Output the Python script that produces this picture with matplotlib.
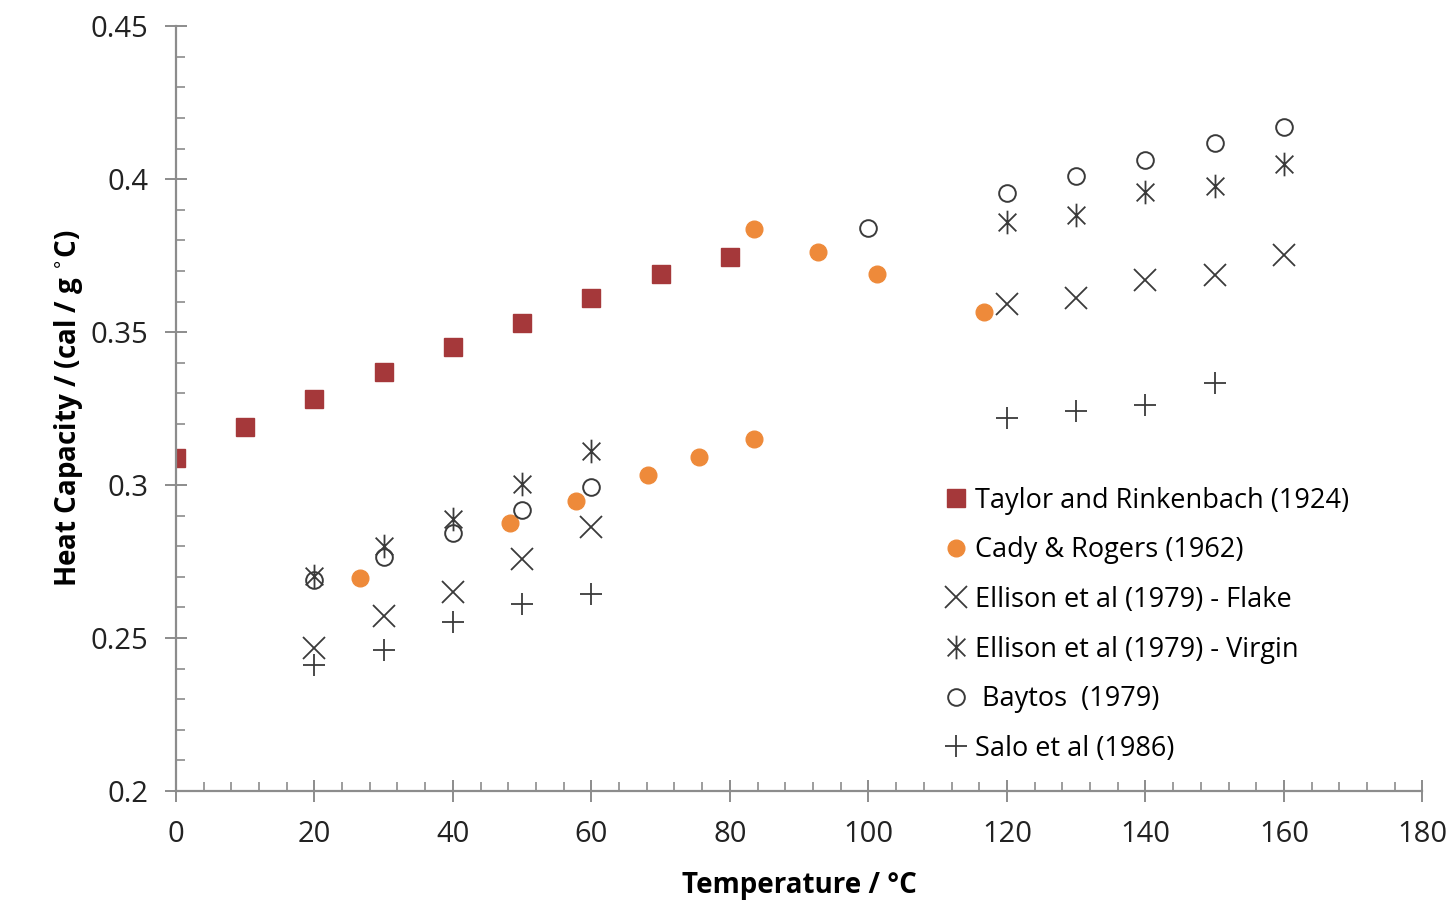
import numpy as np
import matplotlib
matplotlib.use("Agg")
import matplotlib.pyplot as plt
from matplotlib.path import Path
from matplotlib.ticker import MultipleLocator

plt.rcParams['font.family'] = ['Open Sans', 'DejaVu Sans']

# data
taylor_t = [0, 10, 20, 30, 40, 50, 60, 70, 80]
taylor_cp = [0.309, 0.319, 0.328, 0.337, 0.345, 0.353, 0.361, 0.369, 0.3745]

cady_t = [26.6, 48.3, 57.8, 68.2, 75.6, 83.5, 83.5, 92.7, 101.3, 116.7]
cady_cp = [0.2696, 0.2876, 0.2948, 0.3033, 0.3092, 0.315, 0.3837, 0.3761, 0.369, 0.3565]

flake_t = [20, 30, 40, 50, 60, 120, 130, 140, 150, 160]
flake_cp = [0.2467, 0.2572, 0.265, 0.2758, 0.2863, 0.3592, 0.3611, 0.367, 0.3686, 0.3752]

virgin_t = [20, 30, 40, 50, 60, 120, 130, 140, 150, 160]
virgin_cp = [0.2703, 0.2801, 0.2889, 0.3003, 0.3111, 0.3859, 0.3882, 0.3958, 0.3977, 0.4049]

baytos_t = [20, 30, 40, 50, 60, 100, 120, 130, 140, 150, 160]
baytos_cp = [0.269, 0.2765, 0.2843, 0.2918, 0.2993, 0.384, 0.3954, 0.401, 0.4062, 0.4118, 0.417]

salo_t = [20, 30, 40, 50, 60, 120, 130, 140, 150]
salo_cp = [0.2412, 0.2461, 0.2552, 0.2611, 0.2644, 0.3219, 0.3242, 0.3261, 0.3333]

# asterisk marker: x with a vertical stroke
star = Path([(-0.75, -0.75), (0.75, 0.75), (-0.75, 0.75), (0.75, -0.75), (0, -1), (0, 1)],
            [Path.MOVETO, Path.LINETO, Path.MOVETO, Path.LINETO, Path.MOVETO, Path.LINETO])

dark = '#3a3a3a'
fig = plt.figure(figsize=(14.53, 9.02), dpi=100)
ax = fig.add_axes([0.121, 0.123, 0.858, 0.848])

ax.plot(taylor_t, taylor_cp, 's', color='#a5383a', ms=13, ls='none',
        label='Taylor and Rinkenbach (1924)')
ax.plot(cady_t, cady_cp, 'o', color='#ee8a3a', ms=12, ls='none',
        label='Cady & Rogers (1962)')
ax.plot(flake_t, flake_cp, 'x', color=dark, ms=16, mew=1.3, ls='none',
        label='Ellison et al (1979) - Flake')
ax.plot(virgin_t, virgin_cp, marker=star, color=dark, ms=17, mew=1.3, ls='none',
        label='Ellison et al (1979) - Virgin')
ax.plot(baytos_t, baytos_cp, 'o', mfc='none', mec=dark, ms=12, mew=1.4, ls='none',
        label=' Baytos  (1979)')
ax.plot(salo_t, salo_cp, '+', color=dark, ms=16, mew=1.3, ls='none',
        label='Salo et al (1986)')

ax.set_xlim(0, 180)
ax.set_ylim(0.2, 0.45)
ax.xaxis.set_major_locator(MultipleLocator(20))
ax.xaxis.set_minor_locator(MultipleLocator(4))
ax.yaxis.set_minor_locator(MultipleLocator(0.01))
ax.set_yticks([0.2, 0.25, 0.3, 0.35, 0.4, 0.45])
ax.set_yticklabels(['0.2', '0.25', '0.3', '0.35', '0.4', '0.45'])

for s in ['top', 'right']:
    ax.spines[s].set_visible(False)
for s in ['left', 'bottom']:
    ax.spines[s].set_color('#8c8c8c')
    ax.spines[s].set_linewidth(1.6)
ax.tick_params(which='major', direction='inout', length=16, width=1.4,
               color='#8c8c8c', labelsize=21, labelcolor='#222222')
ax.tick_params(axis='x', which='major', pad=13)
ax.tick_params(axis='y', which='major', pad=12)
ax.tick_params(which='minor', direction='in', length=6.5, width=1.2, color='#8c8c8c')

ax.set_xlabel('Temperature / °C', fontsize=20, fontweight='bold', labelpad=16)
ax.set_ylabel('Heat Capacity / (cal / g $^{\\circ}$C)', fontsize=20,
              fontweight='bold', labelpad=4)

ax.legend(loc='upper left', bbox_to_anchor=(0.617, 0.398), frameon=False,
          fontsize=19.5, handlelength=0.8, handletextpad=0.3, labelspacing=0.8,
          borderaxespad=0, borderpad=0)

fig.savefig('out.png', dpi=100)
